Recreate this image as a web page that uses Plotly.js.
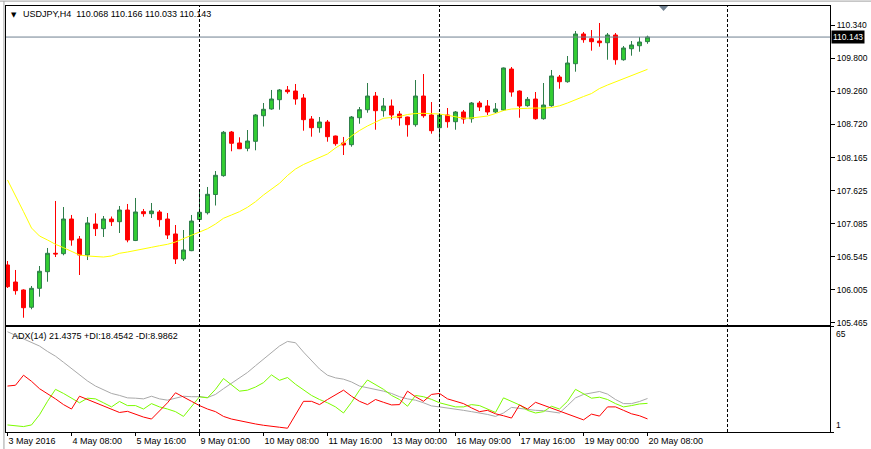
<!DOCTYPE html>
<html><head><meta charset="utf-8">
<script src="https://cdn.plot.ly/plotly-3.0.1.min.js"></script>
<style>html,body{margin:0;padding:0;background:#fff;} #chart{width:871px;height:449px;}</style>
</head><body><div id="chart"></div>
<script>
const symbol = 'USDJPY';
const timeframe = 'H4';

const open = [106.414,106.135,106.005,105.722,106.032,106.304,106.605,106.599,107.166,106.839,
106.577,107.084,107.008,107.166,107.122,107.313,106.814,107.286,107.253,107.281,
107.166,106.921,106.512,106.648,107.158,107.269,107.567,107.875,108.589,108.410,
108.323,108.437,108.856,108.966,109.118,109.277,109.260,109.146,108.802,108.660,
108.753,108.524,108.410,108.382,108.823,108.954,109.178,108.938,109.015,108.884,
108.835,108.709,109.178,108.868,108.660,108.868,108.758,108.917,108.807,109.064,
109.015,108.917,108.949,109.620,109.260,109.020,109.129,108.807,109.020,109.489,
109.412,109.707,110.193,110.116,110.078,110.050,110.176,109.772,109.952,110.001,110.068];

const high = [106.479,106.332,106.016,106.070,106.397,106.692,107.461,107.362,107.232,106.888,
107.199,107.259,107.215,107.207,107.379,107.412,107.510,107.330,107.428,107.313,
107.264,107.068,106.986,107.232,107.641,107.690,107.951,108.606,108.606,108.503,
108.622,108.884,109.064,109.277,109.293,109.342,109.375,109.211,108.851,108.835,
108.786,108.530,108.508,108.851,108.998,109.391,109.244,109.146,109.121,108.933,
108.840,109.440,109.538,109.080,108.900,108.982,108.933,108.949,109.080,109.097,
109.113,109.064,109.645,109.653,109.270,109.162,109.244,109.391,109.604,109.522,
109.833,110.242,110.225,110.258,110.373,110.209,110.209,109.996,110.078,110.144,110.166];

const low = [106.037,105.928,105.551,105.689,105.895,106.140,106.544,106.572,106.729,106.250,
106.495,106.888,106.872,107.052,106.937,106.785,106.805,107.204,107.183,107.040,
106.839,106.430,106.479,106.640,107.150,107.240,107.387,107.858,108.274,108.310,
108.274,108.290,108.679,108.954,108.954,109.216,109.036,108.611,108.513,108.578,
108.431,108.365,108.213,108.349,108.725,108.905,108.627,108.840,108.794,108.693,
108.513,108.676,108.823,108.562,108.464,108.660,108.627,108.725,108.742,108.933,
108.868,108.900,108.933,109.167,108.823,109.003,108.791,108.791,109.003,109.298,
109.396,109.576,110.050,109.920,109.985,109.772,109.691,109.756,109.838,109.903,110.033];

const close = [106.059,105.993,105.715,106.032,106.311,106.605,106.595,107.166,106.823,106.577,
107.101,107.008,107.166,107.122,107.313,106.823,107.281,107.253,107.297,107.155,
106.904,106.512,106.659,107.133,107.276,107.570,107.881,108.585,108.405,108.316,
108.442,108.868,108.961,109.129,109.277,109.249,109.129,108.791,108.660,108.753,
108.513,108.398,108.377,108.835,108.954,109.178,108.938,109.015,108.868,108.823,
108.709,109.178,108.856,108.611,108.868,108.758,108.917,108.802,109.064,108.998,
108.917,108.966,109.637,109.244,109.015,109.124,108.807,109.031,109.506,109.412,
109.718,110.193,110.100,110.067,110.050,110.176,109.772,109.964,110.013,110.062,110.143];

const maValues = [107.804,107.531,107.286,107.019,106.888,106.823,106.752,106.697,106.631,106.577,
106.561,106.556,106.544,106.561,106.605,106.626,106.648,106.675,106.703,106.729,
106.752,106.790,106.850,106.900,106.953,107.007,107.084,107.178,107.232,107.286,
107.358,107.449,107.559,107.652,107.750,107.878,107.984,108.058,108.115,108.180,
108.230,108.328,108.410,108.524,108.614,108.688,108.753,108.814,108.827,108.843,
108.876,108.892,108.895,108.892,108.884,108.863,108.835,108.814,108.819,108.838,
108.851,108.892,108.941,108.966,108.977,108.977,108.982,108.979,108.990,109.018,
109.064,109.121,109.170,109.219,109.301,109.358,109.407,109.465,109.514,109.563,109.615];

const adx = [62.1,60.0,57.9,55.9,53.4,50.1,47.2,43.5,39.8,36.3,
32.1,29.0,26.5,24.5,23.3,21.8,21.6,21.2,22.8,21.2,
20.4,21.6,22.8,22.5,22.5,22.0,23.9,27.4,30.7,33.6,
37.3,41.4,45.5,49.7,53.4,56.2,55.4,49.7,44.5,39.4,
35.6,34.0,33.2,31.5,29.0,28.0,27.0,25.9,24.5,22.5,
21.2,20.4,18.8,16.9,16.3,15.7,15.0,14.2,13.4,12.6,
11.7,10.5,12.6,16.0,15.4,14.4,14.2,14.0,13.4,12.6,
17.1,21.8,23.9,24.9,25.7,24.1,20.8,18.3,18.3,19.6,21.4375];

const plusDI = [5.3,4.7,4.3,5.3,11.5,19.7,27.0,24.5,21.8,18.8,
21.6,21.2,18.8,16.3,19.6,17.1,17.1,15.0,18.3,16.3,
15.0,13.4,10.5,16.3,22.5,21.8,27.0,33.6,29.9,25.9,
26.5,28.4,31.1,35.8,32.5,34.2,30.1,26.5,23.3,20.8,
18.8,16.3,12.6,19.1,26.5,32.7,30.1,27.0,23.3,20.8,
16.7,23.3,22.5,20.9,18.8,17.7,16.3,16.3,17.7,17.1,
15.0,12.9,21.8,19.7,17.5,14.2,12.6,13.4,16.7,15.0,
19.7,27.0,24.5,21.6,22.2,20.8,18.3,16.3,17.1,18.1,18.4542];

const minusDI = [29.0,29.5,35.6,31.9,27.4,24.5,21.2,17.7,15.0,22.8,
20.8,18.8,17.1,15.0,12.9,13.6,11.9,10.1,8.9,13.6,
18.8,24.9,22.5,19.7,17.1,15.0,13.4,10.5,8.9,7.8,
6.8,5.9,5.1,4.3,3.9,3.3,11.5,19.7,19.7,17.7,
20.8,23.9,26.5,22.8,19.7,17.7,20.8,19.1,17.5,17.7,
25.9,22.5,19.7,23.9,24.5,21.2,19.6,18.3,15.7,13.4,
14.2,12.1,10.9,9.5,17.5,15.0,19.1,17.3,15.7,13.6,
11.9,10.1,8.4,11.9,10.7,16.3,16.3,14.2,12.1,10.9,8.9862];

const priceTicks = [110.340,109.800,109.260,108.720,108.165,107.625,107.085,106.545,106.005,105.465];
const timeLabels = ['3 May 2016','4 May 08:00','5 May 16:00','9 May 01:00','10 May 08:00','11 May 16:00',
'13 May 00:00','16 May 09:00','17 May 16:00','19 May 00:00','20 May 08:00'];
const labelStep = 8;
const separatorBars = [24, 54, 90];
const adxScale = [1, 65];
const adxPeriod = 14;

const bars = open.map((_, i) => i);
const last = open.length - 1;
const FONT = '"Liberation Sans", Arial, sans-serif';
const xRange = [-0.1875, 102.8125];

const traces = [
  {type:'candlestick', x:bars, open:open, high:high, low:low, close:close, xaxis:'x', yaxis:'y',
   increasing:{line:{color:'#2E7D4A', width:1}, fillcolor:'#32CD32'},
   decreasing:{line:{color:'#FF0000', width:1}, fillcolor:'#FF0000'},
   whiskerwidth:0, hoverinfo:'skip'},
  {type:'scatter', mode:'lines', x:bars, y:maValues, xaxis:'x', yaxis:'y',
   line:{color:'#FFFF00', width:1}, hoverinfo:'skip'},
  {type:'scatter', mode:'lines', x:bars, y:adx, xaxis:'x2', yaxis:'y2',
   line:{color:'#A9A9A9', width:1}, hoverinfo:'skip'},
  {type:'scatter', mode:'lines', x:bars, y:plusDI, xaxis:'x2', yaxis:'y2',
   line:{color:'#7CFC00', width:1}, hoverinfo:'skip'},
  {type:'scatter', mode:'lines', x:bars, y:minusDI, xaxis:'x2', yaxis:'y2',
   line:{color:'#FF0000', width:1}, hoverinfo:'skip'}
];

const axisBase = {showgrid:false, zeroline:false, showline:true, mirror:true, linecolor:'#000', linewidth:1, fixedrange:true};

const shapes = separatorBars.map(b => ({type:'line', xref:'x', yref:'paper', x0:b, x1:b, y0:0, y1:1,
  line:{color:'#000', width:1, dash:'3px,2px'}}));
shapes.push({type:'line', xref:'paper', yref:'y', x0:0, x1:1, y0:close[last], y1:close[last],
  line:{color:'#708090', width:1}});
shapes.push({type:'path', xref:'paper', yref:'paper', path:'M 0.7925 1.0 L 0.8035 1.0 L 0.798 0.9885 Z',
  fillcolor:'#708090', line:{width:0}});
shapes.push({type:'line', xref:'paper', yref:'paper', x0:-0.01, x1:1.06, y0:1.0115, y1:1.0115,
  line:{color:'#A0A0A0', width:1}});
shapes.push({type:'line', xref:'paper', yref:'paper', x0:-0.0025, x1:-0.0025, y0:-0.05, y1:1.0115,
  line:{color:'#A0A0A0', width:1}});

const annotations = [
  {xref:'paper', yref:'y domain', x:0, y:1, xanchor:'left', yanchor:'top', xshift:3, yshift:-3,
   text:'▼', showarrow:false, font:{family:'"DejaVu Sans"', size:7, color:'#000'}},
  {xref:'paper', yref:'y domain', x:0, y:1, xanchor:'left', yanchor:'top', xshift:15, yshift:-1,
   text: symbol + ',' + timeframe + '\u00a0\u00a0' + [open[last], high[last], low[last], close[last]].map(v => v.toFixed(3)).join(' '),
   showarrow:false, font:{family:FONT, size:9, color:'#000'}},
  {xref:'paper', yref:'y2 domain', x:0, y:1, xanchor:'left', yanchor:'top', xshift:4, yshift:-2,
   text:'ADX(' + adxPeriod + ') ' + adx[last].toFixed(4) + ' +DI:' + plusDI[last].toFixed(4) + ' -DI:' + minusDI[last].toFixed(4),
   showarrow:false, font:{family:FONT, size:9, color:'#000'}},
  {xref:'paper', yref:'y2', x:1, y:adxScale[1], xanchor:'left', yanchor:'top', xshift:4, yshift:0,
   text:String(adxScale[1]), showarrow:false, font:{family:FONT, size:8.5, color:'#000'}},
  {xref:'paper', yref:'y2', x:1, y:adxScale[0], xanchor:'left', yanchor:'bottom', xshift:4, yshift:0,
   text:String(adxScale[0]), showarrow:false, font:{family:FONT, size:8.5, color:'#000'}},
  {xref:'paper', yref:'y', x:1, y:close[last], xanchor:'left', yanchor:'middle', xshift:1,
   text:close[last].toFixed(3), showarrow:false, bgcolor:'#000', borderpad:1,
   font:{family:FONT, size:8.5, color:'#FFF'}}
];

const layout = {
  width:871, height:449,
  margin:{l:6, r:41, t:6, b:17},
  paper_bgcolor:'#FFF', plot_bgcolor:'#FFF',
  showlegend:false, hovermode:false,
  xaxis:Object.assign({}, axisBase, {domain:[0,1], anchor:'y', range:xRange, showticklabels:false, ticks:'',
    rangeslider:{visible:false}}),
  yaxis:Object.assign({}, axisBase, {domain:[0.2512,1], anchor:'x', side:'right', range:[105.432,110.651],
    tickvals:priceTicks, ticktext:priceTicks.map(v => v.toFixed(3)), ticks:'outside', ticklen:4, tickcolor:'#000',
    tickfont:{family:FONT, size:8.5, color:'#000'}}),
  xaxis2:Object.assign({}, axisBase, {domain:[0,1], anchor:'y2', range:xRange,
    tickvals:timeLabels.map((_, k) => k * labelStep), ticktext:timeLabels, ticks:'outside', ticklen:3, tickcolor:'#000',
    ticklabelposition:'outside right', tickangle:0, tickfont:{family:FONT, size:9, color:'#000'}}),
  yaxis2:Object.assign({}, axisBase, {domain:[0,0.2465], anchor:'x2', side:'right', range:adxScale,
    tickvals:adxScale, ticks:'outside', ticklen:3, tickcolor:'#000', showticklabels:false}),
  shapes:shapes,
  annotations:annotations
};

Plotly.newPlot('chart', traces, layout, {staticPlot:true, displayModeBar:false});
</script>
</body></html>
